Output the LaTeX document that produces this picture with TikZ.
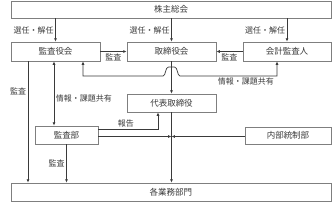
\documentclass[tikz,border=0pt]{standalone}
\usepackage{fontspec}
\setmainfont{Noto Sans CJK JP}
\usetikzlibrary{arrows.meta,positioning,calc}
\definecolor{ink}{HTML}{3A3A3A}
\definecolor{frame}{HTML}{7F7F7F}
\tikzset{
  every picture/.style={line width=0.7pt, text=ink, font=\fontsize{8}{9.6}\selectfont},
  box/.style={draw=frame, fill=white, inner sep=0pt, minimum height=18pt, font=\fontsize{8.5}{10}\selectfont},
  note/.style={inner sep=1.5pt},
  flow/.style={-{Latex[length=3.4pt,width=3pt]}, draw=ink},
  both/.style={{Latex[length=3.4pt,width=3pt]}-{Latex[length=3.4pt,width=3pt]}, draw=ink},
}

\begin{document}
\begin{tikzpicture}[x=1pt, y=-1pt]
\useasboundingbox (0,0) rectangle (333,202);
% boxes
\node[box, minimum width=320pt, minimum height=17pt] (soukai) at (171,9.5) {株主総会};
\node[box, minimum width=89pt, minimum height=19pt] (kansayaku) at (55.5,51.5) {監査役会};
\node[box, minimum width=89pt, minimum height=19pt] (torishimari) at (171.5,51.5) {取締役会};
\node[box, minimum width=88pt, minimum height=19pt] (kaikei) at (287,51.5) {会計監査人};
\node[box, minimum width=89pt] (daihyo) at (171.5,103) {代表取締役};
\node[box, minimum width=63pt] (kansabu) at (66.5,135) {監査部};
\node[box, minimum width=86pt, minimum height=17pt] (naibu) at (288,135.5) {内部統制部};
\node[box, minimum width=320pt] (gyomu) at (171,192) {各業務部門};
% helper points
\coordinate (hopL) at (163,76);
\coordinate (hopR) at (180,76);
\coordinate (kLeft) at ([xshift=-27.5pt]kansayaku.south);
\coordinate (renkei) at (171.5,136.5);
% appointment
\draw[flow] (soukai.south -| kansayaku.north) -- node[left, note] {選任・解任} (kansayaku.north);
\draw[flow] (soukai.south -| torishimari.north) -- node[left, note] {選任・解任} (torishimari.north);
\draw[flow] (soukai.south -| kaikei.north) -- node[left, note] {選任・解任} (kaikei.north);
% audit
\draw[flow] (kansayaku.east) -- node[below, note] {監査} (torishimari.west);
\draw[flow] (kaikei.west) -- node[below, note] {監査} (torishimari.east);
\draw[flow] (kLeft) -- node[left, pos=0.25, note] {監査} (kLeft |- gyomu.north);
\draw[flow] (kansabu.south) -- node[left, note] {監査} (kansabu.south |- gyomu.north);
% sharing
\draw[both] ([xshift=27.5pt]kansayaku.south) |- (hopL)
  .. controls (166,76) and (165,67) .. (168.5,67) -- (174.5,67)
  .. controls (178,67) and (177,76) .. (hopR)
  -| node[below, pos=0.34, note] {情報・課題共有} ([xshift=-10pt]kaikei.south);
\draw[both] ([xshift=-1.5pt]kansayaku.south) -- node[right, pos=0.57, note] {情報・課題共有} ([xshift=-12.5pt]kansabu.north);
% execution
\draw[flow] (torishimari.south) -- (daihyo.north);
\draw[flow] (daihyo.south) -- (daihyo.south |- gyomu.north);
\draw[flow] ([yshift=6pt]kansabu.east) -| node[above, pos=0.23, note] {報告} ([xshift=-13.5pt]daihyo.south);
\draw[flow] (kansabu.east |- renkei) -- (renkei);
\draw[flow] (naibu.west |- renkei) -- (renkei);
\end{tikzpicture}
\end{document}
